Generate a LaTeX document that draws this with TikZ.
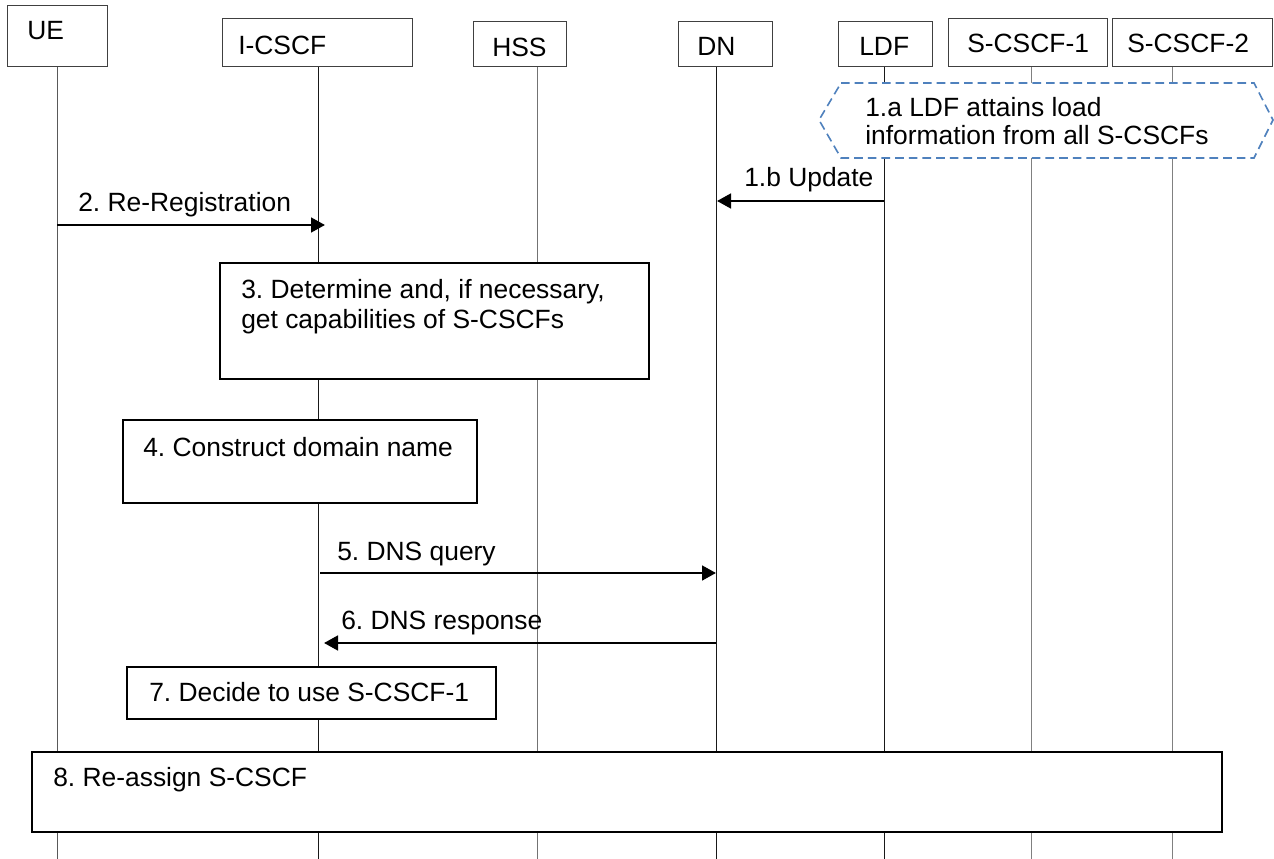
\documentclass[tikz,border=0pt]{standalone}
\usepackage{fontspec}
\setmainfont{Liberation Sans}
\usetikzlibrary{arrows.meta}
\definecolor{hexblue}{RGB}{79,129,189}
\frenchspacing
\begin{document}
\begin{tikzpicture}[x=0.75pt,y=-0.75pt,
  font=\fontsize{19.8}{23}\selectfont,
  sz/.style 2 args={minimum width=#1*0.75pt, minimum height=#2*0.75pt},
  hdr/.style={draw=black!75, line width=0.75pt, fill=white, inner sep=0pt, outer sep=0pt, anchor=north west},
  stepbox/.style={draw=black, line width=1.3pt, fill=white, inner sep=0pt, outer sep=0pt, anchor=north west},
  txt/.style={anchor=base west, inner sep=0pt},
  life/.style={line width=0.75pt},
  msg/.style={line width=2pt, -{Triangle[length=10.5pt,width=11pt]}},
  hexline/.style={draw=hexblue, line width=1.2pt, dash pattern=on 6.5pt off 3.75pt, fill=white},
]
\useasboundingbox (0,0) rectangle (1274,859);

% lifeline end points
\coordinate (ueTop) at (57,67);     \coordinate (ueBot) at (57,860);
\coordinate (icTop) at (318,67);    \coordinate (icBot) at (318,860);
\coordinate (hsTop) at (537,67);    \coordinate (hsBot) at (537,860);
\coordinate (dnTop) at (716,67);    \coordinate (dnBot) at (716,860);
\coordinate (ldTop) at (884,67);    \coordinate (ldBot) at (884,860);
\coordinate (s1Top) at (1031,67);   \coordinate (s1Bot) at (1031,860);
\coordinate (s2Top) at (1172,67);   \coordinate (s2Bot) at (1172,860);

% lifelines
\draw[life, black!65] (ueTop) -- (ueBot);
\draw[life, black!90] (icTop) -- (icBot);
\draw[life, black!55] (hsTop) -- (hsBot);
\draw[life, black!90] (dnTop) -- (dnBot);
\draw[life, black!90] (ldTop) -- (ldBot);
\draw[life, black!50] (s1Top) -- (s1Bot);
\draw[life, black!50] (s2Top) -- (s2Bot);

% header boxes
\node[hdr, sz={100}{61}]  (ue)    at (7,6)     {};
\node[hdr, sz={190}{48}]  (icscf) at (222,19)  {};
\node[hdr, sz={93}{45}]   (hss)   at (473,22)  {};
\node[hdr, sz={94}{45}]   (dn)    at (678,22)  {};
\node[hdr, sz={94}{45}]   (ldf)   at (838,22)  {};
\node[hdr, sz={159}{48}]  (scscfA) at (948,19) {};
\node[hdr, sz={160}{48}]  (scscfB) at (1112,19) {};

\node[txt] (ueT)    at (27,40)   {UE};
\node[txt] (icscfT) at (238,55)  {I-CSCF};
\node[txt] (hssT)   at (492,57)  {HSS};
\node[txt] (dnT)    at (697,56)  {DN};
\node[txt] (ldfT)   at (859,56)  {LDF};
\node[txt] (sAT)    at (967,53)  {S-CSCF-1};
\node[txt] (sBT)    at (1127,53) {S-CSCF-2};

% step 1.a: hexagon spanning LDF and the S-CSCFs
\draw[hexline] (841,83) -- (1254,83) -- (1273,120) -- (1254,158)
  -- (841,158) -- (819,120) -- cycle;
\node[txt] (h1) at (865,117) {1.a LDF attains load};
\node[txt] (h2) at (865,145) {information from all S-CSCFs};

% step 1.b
\coordinate (m1s) at (884,201); \coordinate (m1e) at (717,201);
\draw[msg] (m1s) -- (m1e);
\node[txt] (m1T) at (744,187) {1.b Update};

% step 2
\coordinate (m2s) at (57,225); \coordinate (m2e) at (325,225);
\draw[msg] (m2s) -- (m2e);
\node[txt] (m2T) at (78,212) {2. Re-Registration};

% step 3
\node[stepbox, sz={429}{116}] (b3) at (220,263) {};
\node[txt] (b3a) at (241,298) {3. Determine and, if necessary,};
\node[txt] (b3b) at (241,328) {get capabilities of S-CSCFs};

% step 4
\node[stepbox, sz={354}{83}] (b4) at (123,420) {};
\node[txt] (b4T) at (143,456) {4. Construct domain name};

% step 5
\coordinate (m5s) at (320,573); \coordinate (m5e) at (716,573);
\draw[msg] (m5s) -- (m5e);
\node[txt] (m5T) at (337,560) {5. DNS query};

% step 6
\coordinate (m6s) at (716,643); \coordinate (m6e) at (324,643);
\draw[msg] (m6s) -- (m6e);
\node[txt] (m6T) at (341,629) {6. DNS response};

% step 7
\node[stepbox, sz={369}{52}] (b7) at (127,667) {};
\node[txt] (b7T) at (149,701) {7. Decide to use S-CSCF-1};

% step 8
\node[stepbox, sz={1190}{80}] (b8) at (32,752) {};
\node[txt] (b8T) at (53,786) {8. Re-assign S-CSCF};
\end{tikzpicture}
\end{document}
